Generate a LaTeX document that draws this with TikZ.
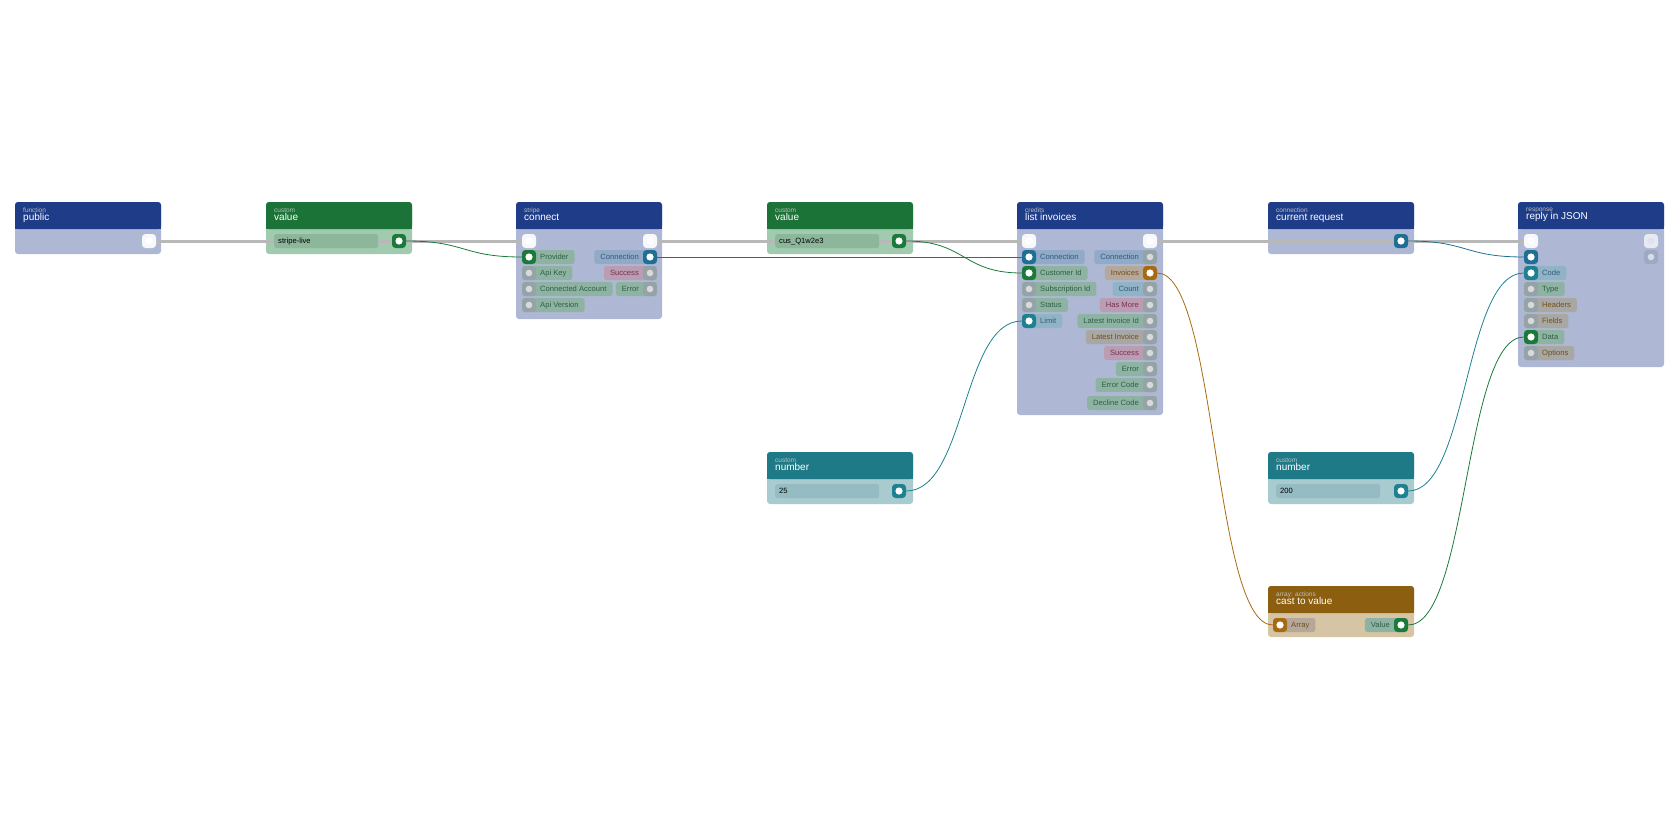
\documentclass[tikz,border=0pt]{standalone}
\usepackage{fontspec}
\setmainfont{Liberation Sans}
\begin{document}
\definecolor{hblue}{HTML}{1E3C87}\definecolor{hgreen}{HTML}{1B7338}
\definecolor{hteal}{HTML}{1E7A87}\definecolor{hbrown}{HTML}{8B5E10}
\definecolor{bblue}{HTML}{AEB8D4}\definecolor{bgreen}{HTML}{A0CBAF}
\definecolor{bteal}{HTML}{A8CBD0}\definecolor{bbrown}{HTML}{D5C5A5}
\definecolor{pblue}{HTML}{1F6E94}\definecolor{pgreen}{HTML}{1B7A3A}
\definecolor{pteal}{HTML}{1E8090}\definecolor{pbrown}{HTML}{A86A10}
\definecolor{pgrey}{HTML}{95A3A8}
\definecolor{lgreen}{HTML}{8FB3A3}\definecolor{lblue}{HTML}{90AAC8}
\definecolor{lpink}{HTML}{BA9DB2}\definecolor{lbrown}{HTML}{B6A898}
\definecolor{lteal}{HTML}{90B4C6}\definecolor{lgrey}{HTML}{A9A7A3}
\definecolor{tgreen}{HTML}{2E5E45}\definecolor{tblue}{HTML}{35597E}
\definecolor{tpink}{HTML}{7A3050}\definecolor{tbrown}{HTML}{6E5020}
\definecolor{fgreen}{HTML}{8DB79B}\definecolor{fteal}{HTML}{95BCC2}
\begin{tikzpicture}[x=1pt,y=-1pt,
  every node/.style={font=\fontsize{7.6}{9}\selectfont},
  port/.style={draw=none,rounded corners=3.5pt,minimum size=14pt,inner sep=0pt},
  pill/.style={rounded corners=2.5pt,inner sep=0pt,minimum height=14pt,text height=5.6pt,text depth=1.6pt},
  field/.style={pill,anchor=west,minimum width=104pt,text width=96pt,align=left,inner xsep=4pt},
  wire/.style={line width=0.8pt},
  exec/.style={line width=3pt,color=black!28}]
\useasboundingbox (0,0) rectangle (1680,840);
\newcommand\mkblock[8]{%
  \fill[#7,rounded corners=3pt] (#2,#3) rectangle ++(146,#5-#3);
  \fill[#6,rounded corners=3pt] (#2,#3) rectangle ++(146,#4-#3);
  \fill[#6] (#2,#4-5) rectangle ++(146,5);
  \node[anchor=north west,align=left,inner sep=0pt,text=white] (#1) at (#2+8,#3+6) {#8};}
\newcommand\cat[2]{{\fontsize{6.5}{6}\selectfont\color{white!75!black}#1}\\[-1pt]{\fontsize{10}{10}\selectfont #2}}
\newcommand\pt[4]{\node[port,fill=#4] (#1) at (#2,#3) {};\fill[white] (#1) circle (3.6pt);}
\newcommand\ptoff[3]{\node[port,fill=pgrey] (#1) at (#2,#3) {};\fill[black!15] (#1) circle (3.3pt);}
\newcommand\ptex[3]{\node[port,fill=white!90!bblue] (#1) at (#2,#3) {};\fill[white] (#1) circle (3.6pt);}
\newcommand\inl[5]{\node[pill,fill=#4,text=#5,anchor=west] at (#1-7,#2) {\kern18pt#3\kern6pt};}
\newcommand\outl[5]{\node[pill,fill=#4,text=#5,anchor=east] at (#1+7,#2) {\kern6pt#3\kern18pt};}

\mkblock{public}{15}{202}{229}{254}{hblue}{bblue}{\cat{function}{public}}
\mkblock{value1}{266}{202}{229}{254}{hgreen}{bgreen}{\cat{custom}{value}}
\mkblock{connect}{516}{202}{229}{319}{hblue}{bblue}{\cat{stripe}{connect}}
\mkblock{value2}{767}{202}{229}{254}{hgreen}{bgreen}{\cat{custom}{value}}
\mkblock{list}{1017}{202}{229}{415}{hblue}{bblue}{\cat{credits}{list invoices}}
\mkblock{curreq}{1268}{202}{229}{254}{hblue}{bblue}{\cat{connection}{current request}}
\mkblock{reply}{1518}{202}{229}{367}{hblue}{bblue}{\cat{response}{reply in JSON}}
\mkblock{num1}{767}{452}{479}{504}{hteal}{bteal}{\cat{custom}{number}}
\mkblock{num2}{1268}{452}{479}{504}{hteal}{bteal}{\cat{custom}{number}}
\mkblock{cast}{1268}{586}{613}{637}{hbrown}{bbrown}{\cat{array: actions}{cast to value}}

\coordinate (e0) at (149,241); \coordinate (e1) at (529,241); \coordinate (e2) at (650,241);
\coordinate (e3) at (1029,241); \coordinate (e4) at (1150,241); \coordinate (e5) at (1531,241);
\draw[exec] (e0) -- (e1); \draw[exec] (e2) -- (e3); \draw[exec] (e4) -- (e5);

\node[field,fill=fgreen] (f1) at (274,241) {stripe-live};
\node[field,fill=fgreen] (f2) at (775,241) {cus\_Q1w2e3};
\node[field,fill=fteal] (f3) at (775,491) {25};
\node[field,fill=fteal] (f4) at (1276,491) {200};

\inl{529}{257}{Provider}{lgreen}{tgreen}
\inl{529}{273}{Api Key}{lgreen}{tgreen}
\inl{529}{289}{Connected Account}{lgreen}{tgreen}
\inl{529}{305}{Api Version}{lgreen}{tgreen}
\outl{650}{257}{Connection}{lblue}{tblue}
\outl{650}{273}{Success}{lpink}{tpink}
\outl{650}{289}{Error}{lgreen}{tgreen}
\inl{1029}{257}{Connection}{lblue}{tblue}
\inl{1029}{273}{Customer Id}{lgreen}{tgreen}
\inl{1029}{289}{Subscription Id}{lgreen}{tgreen}
\inl{1029}{305}{Status}{lgreen}{tgreen}
\inl{1029}{321}{Limit}{lteal}{tblue}
\outl{1150}{257}{Connection}{lblue}{tblue}
\outl{1150}{273}{Invoices}{lbrown}{tbrown}
\outl{1150}{289}{Count}{lteal}{tblue}
\outl{1150}{305}{Has More}{lpink}{tpink}
\outl{1150}{321}{Latest Invoice Id}{lgreen}{tgreen}
\outl{1150}{337}{Latest Invoice}{lgrey}{tbrown}
\outl{1150}{353}{Success}{lpink}{tpink}
\outl{1150}{369}{Error}{lgreen}{tgreen}
\outl{1150}{385}{Error Code}{lgreen}{tgreen}
\outl{1150}{403}{Decline Code}{lgreen}{tgreen}
\inl{1531}{273}{Code}{lteal}{tblue}
\inl{1531}{289}{Type}{lgreen}{tgreen}
\inl{1531}{305}{Headers}{lgrey}{tbrown}
\inl{1531}{321}{Fields}{lgrey}{tbrown}
\inl{1531}{337}{Data}{lgreen}{tgreen}
\inl{1531}{353}{Options}{lgrey}{tbrown}
\inl{1280}{625}{Array}{lbrown}{tbrown}
\outl{1401}{625}{Value}{lgreen}{tgreen}

\ptex{pubx}{149}{241}
\pt{v1o}{399}{241}{pgreen}
\ptex{cinx}{529}{241}\ptex{coutx}{650}{241}
\pt{cprov}{529}{257}{pgreen}\ptoff{capi}{529}{273}\ptoff{cacc}{529}{289}\ptoff{cver}{529}{305}
\pt{cconn}{650}{257}{pblue}\ptoff{csucc}{650}{273}\ptoff{cerr}{650}{289}
\pt{v2o}{899}{241}{pgreen}
\ptex{linx}{1029}{241}\ptex{loutx}{1150}{241}
\pt{lconn}{1029}{257}{pblue}\pt{lcust}{1029}{273}{pgreen}\ptoff{lsub}{1029}{289}\ptoff{lstat}{1029}{305}\pt{llim}{1029}{321}{pteal}
\ptoff{loconn}{1150}{257}\pt{linv}{1150}{273}{pbrown}
\foreach \yy/\nn in {289/a,305/b,321/c,337/d,353/e,369/f,385/g,403/h}{\ptoff{lo\nn}{1150}{\yy}}
\pt{cro}{1401}{241}{pblue}
\ptex{rinx}{1531}{241}
\node[port,fill=white!70!bblue] (routx) at (1651,241) {};\fill[white!60!bblue] (routx) circle (3.6pt);
\node[port,fill=black!8!bblue] (rout2) at (1651,257) {};\fill[white!50!bblue] (rout2) circle (3.3pt);
\pt{rconn}{1531}{257}{pblue}\pt{rcode}{1531}{273}{pteal}\ptoff{rtype}{1531}{289}\ptoff{rhead}{1531}{305}\ptoff{rfield}{1531}{321}
\pt{rdata}{1531}{337}{pgreen}\ptoff{ropt}{1531}{353}
\pt{n1o}{899}{491}{pteal}\pt{n2o}{1401}{491}{pteal}
\pt{carr}{1280}{625}{pbrown}\pt{cval}{1401}{625}{pgreen}

\draw[wire,pgreen] (v1o.east) .. controls +(60,0) and +(-60,0) .. (cprov.west);
\draw[wire,pblue] (cconn.east) -- (lconn.west);
\draw[wire,pgreen] (v2o.east) .. controls +(60,0) and +(-60,0) .. (lcust.west);
\draw[wire,pteal] (n1o.east) .. controls +(60,0) and +(-60,0) .. (llim.west);
\draw[wire,pbrown] (linv.east) .. controls +(60,0) and +(-60,0) .. (carr.west);
\draw[wire,pblue] (cro.east) .. controls +(60,0) and +(-60,0) .. (rconn.west);
\draw[wire,pteal] (n2o.east) .. controls +(60,0) and +(-60,0) .. (rcode.west);
\draw[wire,pgreen] (cval.east) .. controls +(60,0) and +(-60,0) .. (rdata.west);
\end{tikzpicture}
\end{document}
